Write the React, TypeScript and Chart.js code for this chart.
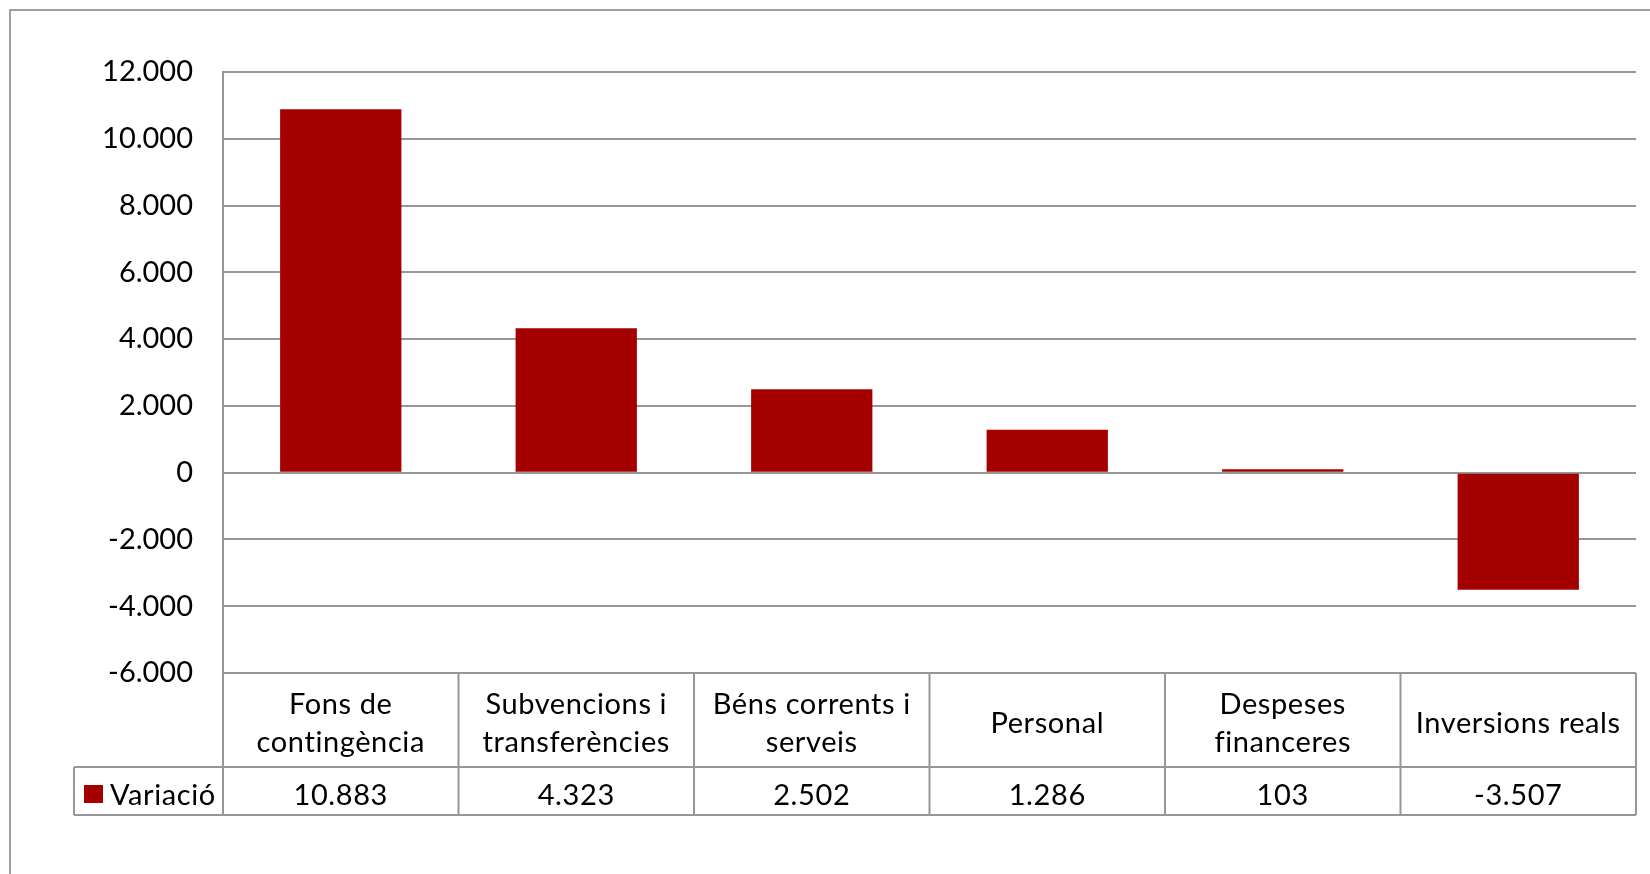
import React, { useEffect, useRef } from "react";
import { Chart, registerables } from "chart.js";

Chart.register(...registerables);

const categories: string[][] = [
  ["Fons de", "contingència"],
  ["Subvencions i", "transferències"],
  ["Béns corrents i", "serveis"],
  ["Personal"],
  ["Despeses", "financeres"],
  ["Inversions reals"],
];
const seriesName = "Variació";
const values: number[] = [10883, 4323, 2502, 1286, 103, -3507];
const yMin = -6000;
const yMax = 12000;
const yStep = 2000;

const FONT = "Lato";
const FONT_SIZE = 29;
const GRID = "#979797";
const BAR = "#a50000";

function fmt(v: number): string {
  const s = Math.abs(Math.round(v)).toString().replace(/\B(?=(\d{3})+(?!\d))/g, ".");
  return (v < 0 ? "-" : "") + s;
}

const tablePlugin = {
  id: "dataTable",
  afterDraw(chart: any) {
    const ctx = chart.ctx as CanvasRenderingContext2D;
    const x = chart.scales.x;
    const area = chart.chartArea;
    const n = categories.length;
    const cw = (area.right - area.left) / n;
    const headTop = area.bottom;
    const headBottom = area.bottom + 94;
    const rowBottom = headBottom + 48;
    const legendLeft = 74;
    ctx.save();
    // outer chart border
    ctx.strokeStyle = "#a0a0a0";
    ctx.lineWidth = 2;
    ctx.beginPath();
    ctx.moveTo(10, chart.height + 10);
    ctx.lineTo(10, 10);
    ctx.lineTo(chart.width + 10, 10);
    ctx.stroke();

    ctx.strokeStyle = GRID;
    ctx.lineWidth = 2;
    ctx.beginPath();
    for (let i = 0; i <= n; i++) {
      const px = area.left + i * cw;
      ctx.moveTo(px, headTop);
      ctx.lineTo(px, rowBottom);
    }
    ctx.moveTo(legendLeft, headBottom);
    ctx.lineTo(area.right, headBottom);
    ctx.moveTo(legendLeft, rowBottom);
    ctx.lineTo(area.right, rowBottom);
    ctx.moveTo(legendLeft, headBottom);
    ctx.lineTo(legendLeft, rowBottom);
    ctx.stroke();

    ctx.fillStyle = "#000";
    ctx.font = `${FONT_SIZE}px ${FONT}`;
    (ctx as any).letterSpacing = "0.6px";
    ctx.textAlign = "center";
    ctx.textBaseline = "middle";
    const lh = 38;
    const ry = (headBottom + rowBottom) / 2 + 5;
    for (let i = 0; i < n; i++) {
      const cx = x.getPixelForValue(i);
      const lines = categories[i];
      const cy = (headTop + headBottom) / 2 + 4;
      const start = cy - ((lines.length - 1) * lh) / 2;
      lines.forEach((ln, j) => ctx.fillText(ln, cx, start + j * lh));
      ctx.fillText(fmt(values[i]), cx, ry);
    }
    // legend
    ctx.fillStyle = BAR;
    ctx.fillRect(84, ry - 11, 19, 18);
    ctx.fillStyle = "#000";
    ctx.textAlign = "left";
    ctx.fillText(seriesName, 110, ry);
    ctx.restore();
  },
};

export default function App() {
  const ref = useRef<HTMLCanvasElement>(null);
  useEffect(() => {
    document.body.style.margin = "0";
    const chart = new Chart(ref.current!, {
      type: "bar",
      data: {
        labels: categories,
        datasets: [
          {
            label: seriesName,
            data: values,
            backgroundColor: BAR,
            borderWidth: 0,
            barPercentage: 0.515,
            categoryPercentage: 1,
          },
        ],
      },
      options: {
        animation: false,
        responsive: false,
        layout: { padding: { left: 0, top: 72, right: 14, bottom: 201 } },
        plugins: { legend: { display: false }, tooltip: { enabled: false } },
        scales: {
          x: { display: false },
          y: {
            min: yMin,
            max: yMax,
            afterFit(scale: any) {
              scale.width = 223;
            },
            ticks: {
              stepSize: yStep,
              padding: 30,
              color: "#000",
              font: { family: FONT, size: FONT_SIZE },
              callback: (v: any) => fmt(Number(v)),
            },
            grid: { color: GRID, lineWidth: 2, drawTicks: false },
            border: { display: true, color: GRID, width: 2 },
          },
        },
      },
      plugins: [tablePlugin],
    });
    return () => chart.destroy();
  }, []);
  return <canvas ref={ref} width={1650} height={874} style={{ display: "block" }} />;
}
